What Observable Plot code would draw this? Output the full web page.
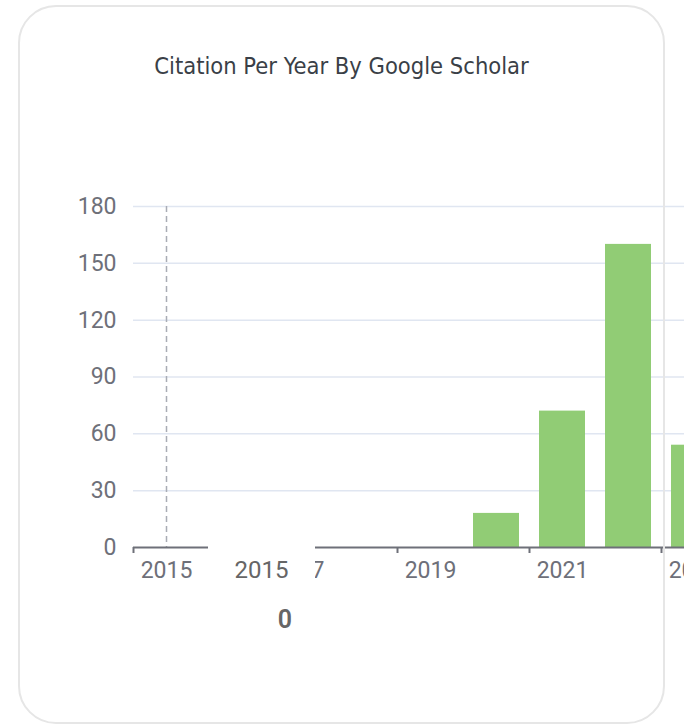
<!DOCTYPE html>
<html>
<head>
<meta charset="utf-8">
<script src="https://cdn.jsdelivr.net/npm/d3@7"></script>
<script src="https://cdn.jsdelivr.net/npm/@observablehq/plot@0.6"></script>
<style>
  html, body { margin: 0; padding: 0; background: #fff; }
  body { width: 684px; height: 725px; overflow: hidden; position: relative; font-family: Roboto, "Noto Sans", sans-serif; }
  #card { position: absolute; left: 18px; top: 5px; width: 643px; height: 715px; border: 2px solid #e6e6e6; border-radius: 38px; z-index: 3; pointer-events: none; }
  #title { position: absolute; left: 18px; width: 647px; top: 52px; text-align: center; font-family: "Liberation Sans Narrow", "DejaVu Sans Condensed", Roboto, sans-serif; font-size: 23.5px; color: #3a3f47; z-index: 2; }
  #chart { position: absolute; left: 0; top: 180px; width: 760px; z-index: 1; }
  #chart svg { max-width: none !important; }
  #tooltip { position: absolute; left: 208px; top: 530px; width: 107px; height: 108px; background: #fff; z-index: 2; color: #666; }
  #tooltip .name { position: absolute; left: 0; width: 107px; top: 26px; text-align: center; font-size: 24px; font-family: Roboto, sans-serif; }
  #tooltip .value { position: absolute; left: 0; width: 154px; top: 75px; text-align: center; font-size: 25px; font-weight: 600; font-family: Roboto, sans-serif; }
</style>
</head>
<body>
<div id="card"></div>
<div id="title">Citation Per Year By Google Scholar</div>
<div id="chart"></div>
<div id="tooltip"><div class="name"></div><div class="value"></div></div>
<script>
// ---- data ----
const years = [2015, 2016, 2017, 2018, 2019, 2020, 2021, 2022, 2023];
const citations = [0, 0, 0, 0, 0, 18, 72, 160, 54];
const yTicks = [0, 30, 60, 90, 120, 150, 180];
const xLabelYears = [2015, 2017, 2019, 2021, 2023];
const tooltipIndex = 0;

const data = years.map((year, i) => ({year, value: citations[i]}));
const boundaries = xLabelYears.map(y => y - 0.5);

const axisColor = "#6E7079";

const chart = Plot.plot({
  width: 760,
  height: 440,
  marginTop: 26,
  marginBottom: 73,
  marginLeft: 133,
  marginRight: 33,
  x: {type: "linear", domain: [years[0] - 0.5, years[years.length - 1] + 0.5]},
  y: {domain: [0, 180]},
  style: {fontFamily: "Roboto, 'Noto Sans', sans-serif", fontSize: "23px", color: axisColor, background: "transparent", overflow: "visible", maxWidth: "none"},
  marks: [
    Plot.gridY(yTicks.filter(v => v > 0), {stroke: "#E0E6F1", strokeOpacity: 1, strokeWidth: 1.5}),
    Plot.axisY(yTicks, {tickSize: 0, tickPadding: 17, fill: axisColor, fontSize: 23, label: null}),
    Plot.rectY(data, {x1: d => d.year - 0.5, x2: d => d.year + 0.5, y: "value", fill: "#91CC75", insetLeft: 10, insetRight: 10}),
    Plot.ruleX([years[tooltipIndex]], {stroke: "#a9acb5", strokeDasharray: "6,4", strokeWidth: 1.5}),
    Plot.ruleY([0], {stroke: axisColor, strokeWidth: 2}),
    Plot.axisX(boundaries, {tickSize: 6, tickFormat: () => "", stroke: axisColor, strokeWidth: 2, label: null}),
    Plot.axisX(xLabelYears, {tickSize: 0, tickPadding: 14, tickFormat: d => String(d), fill: axisColor, fontSize: 23, label: null})
  ]
});
chart.style.maxWidth = "none";
document.getElementById("chart").appendChild(chart);

document.querySelector("#tooltip .name").textContent = String(years[tooltipIndex]);
document.querySelector("#tooltip .value").textContent = String(citations[tooltipIndex]);
</script>
</body>
</html>
